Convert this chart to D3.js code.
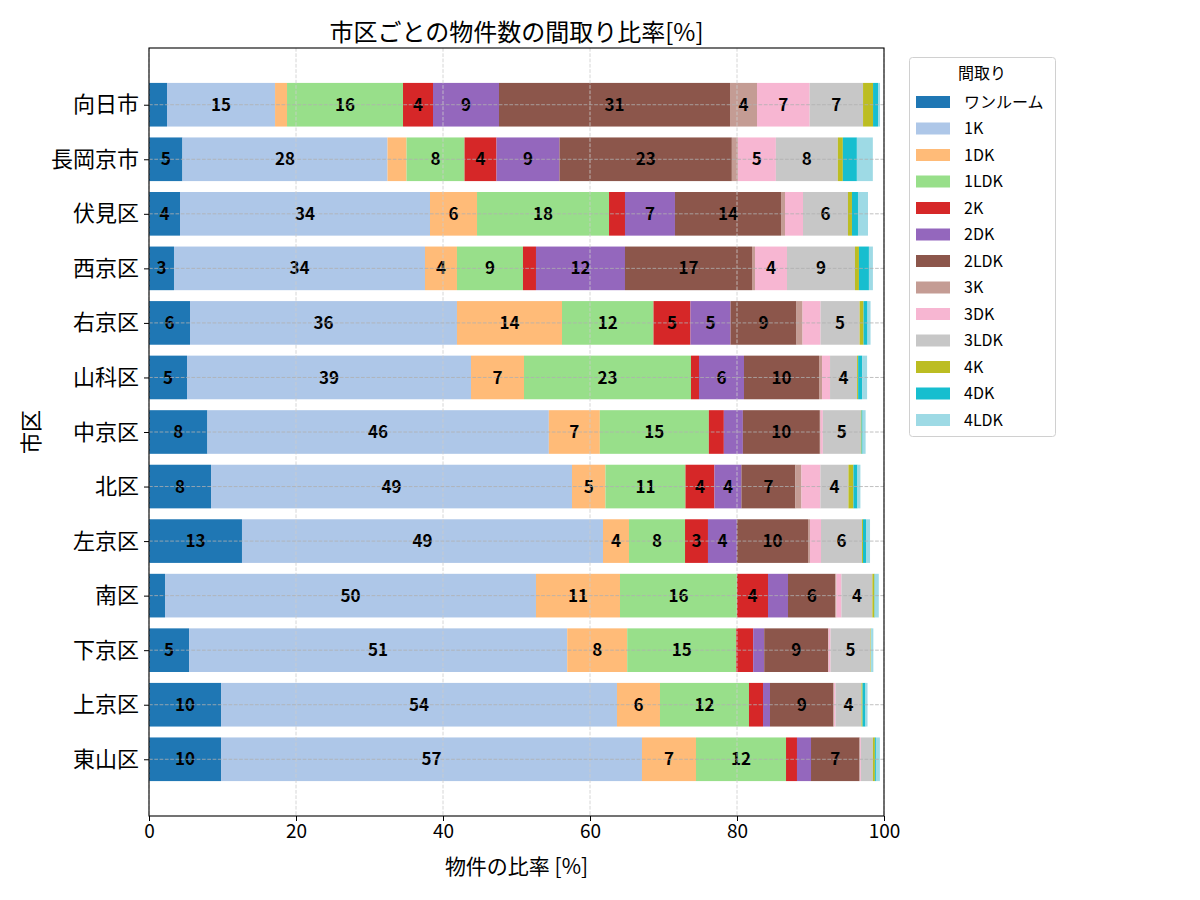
<!DOCTYPE html>
<html><head><meta charset="utf-8">
<script src="https://cdn.jsdelivr.net/npm/d3@7"></script>
<style>
body{margin:0;background:#fff}
svg{font-family:"Noto Sans CJK JP","Noto Sans",sans-serif}
</style>
</head><body>
<svg id="c" width="1200" height="900"></svg>
<script>
// ---- data ----
const districts = ["向日市","長岡京市","伏見区","西京区","右京区","山科区","中京区","北区","左京区","南区","下京区","上京区","東山区"];
const layouts = ["ワンルーム","1K","1DK","1LDK","2K","2DK","2LDK","3K","3DK","3LDK","4K","4DK","4LDK"];
const xTicks = [0,20,40,60,80,100];
const vOneRoom = [2.45,4.55,4.22,3.40,5.58,5.17,7.95,8.44,12.65,2.18,5.45,9.80,9.80];
const v1K   = [14.70,27.90,34.01,34.15,36.32,38.64,46.45,49.11,49.12,50.47,51.45,53.87,57.27];
const v1DK  = [1.63,2.59,6.40,4.35,14.29,7.21,6.94,4.55,3.54,11.43,8.16,5.85,7.35];
const v1LDK = [15.78,7.89,17.96,8.98,12.45,22.72,14.83,10.89,7.62,15.92,14.83,12.11,12.25];
const v2K   = [4.08,4.35,2.17,1.77,5.03,1.09,2.04,3.94,3.12,4.22,2.31,1.91,1.49];
const v2DK  = [8.98,8.57,6.80,12.11,5.45,6.12,2.59,3.67,3.95,2.72,1.50,0.95,1.91];
const v2LDK = [31.43,23.45,14.43,17.28,8.98,10.21,10.47,7.35,9.66,6.45,8.71,8.61,6.60];
const v3K   = [3.67,0.82,0.54,0.41,0.82,0.41,0.10,0.82,0.27,0.14,0.05,0.10,0.05];
const v3DK  = [7.17,5.17,2.45,4.35,2.45,1.09,0.31,2.58,1.50,0.68,0.27,0.20,0.13];
const v3LDK = [7.26,8.43,6.12,9.25,5.31,3.68,5.17,3.81,5.58,4.21,5.45,3.54,1.64];
const v4K   = [1.36,0.68,0.54,0.54,0.54,0.14,0.10,0.68,0.13,0.28,0.05,0.14,0.27];
const v4DK  = [0.68,1.91,0.82,1.36,0.54,0.54,0.14,0.55,0.41,0.05,0.05,0.40,0.14];
const v4LDK = [0.27,2.17,1.36,0.54,0.41,0.68,0.41,0.40,0.55,0.54,0.27,0.28,0.54];
const colors = ["#1f77b4","#aec7e8","#ffbb78","#98df8a","#d62728","#9467bd","#8c564b","#c49c94","#f7b6d2","#c7c7c7","#bcbd22","#17becf","#9edae5"];

const seriesValues = [vOneRoom,v1K,v1DK,v1LDK,v2K,v2DK,v2LDK,v3K,v3DK,v3LDK,v4K,v4DK,v4LDK];
const table = districts.map((d,i)=>{
  const o = {district:d, idx:i};
  layouts.forEach((k,j)=>{ o[k] = seriesValues[j][i]; });
  return o;
});

// ---- layout ----
const svg = d3.select("#c");
const L = 149, R = 884, T = 48, B = 816;
const x = d3.scaleLinear().domain([0,100]).range([L,R]);
const y = d3.scaleLinear().domain([-1.04, 13.04]).range([T,B]);
const barH = y(0.8) - y(0);
const color = d3.scaleOrdinal().domain(layouts).range(colors);

const stack = d3.stack().keys(layouts)(table);

const g = svg.append("g");
stack.forEach(layer=>{
  const gl = g.append("g").attr("fill", color(layer.key));
  gl.selectAll("rect").data(layer).join("rect")
    .attr("x", d=>x(d[0]))
    .attr("y", d=>y(d.data.idx) - barH/2)
    .attr("width", d=>x(d[1]) - x(d[0]))
    .attr("height", barH);
});

// grid (drawn above bars)
const grid = svg.append("g");
grid.selectAll("line.vx").data(xTicks).join("line")
  .attr("x1", d=>x(d)).attr("x2", d=>x(d)).attr("y1", T).attr("y2", B)
  .attr("stroke", "#cccccc").attr("stroke-width", 0.8).attr("stroke-dasharray", "3.7,1.6");
grid.selectAll("line.hy").data(districts.map((d,i)=>i)).join("line")
  .attr("x1", L).attr("x2", R).attr("y1", d=>y(d)).attr("y2", d=>y(d))
  .attr("stroke", "#b0b0b0").attr("stroke-width", 0.8).attr("stroke-dasharray", "3.7,1.6");

// labels
const fmt = d3.format(".0f");
stack.forEach(layer=>{
  g.append("g").selectAll("text").data(layer.filter(d=>(d[1]-d[0])>=3)).join("text")
    .attr("x", d=>(x(d[0])+x(d[1]))/2)
    .attr("y", d=>y(d.data.idx))
    .attr("dy", "0.36em")
    .attr("text-anchor", "middle")
    .attr("font-size", 17)
    .attr("font-weight", "bold")
    .attr("fill", "#000")
    .text(d=>fmt(d[1]-d[0]));
});

// frame
svg.append("rect").attr("x", L).attr("y", T).attr("width", R-L).attr("height", B-T)
  .attr("fill", "none").attr("stroke", "#000").attr("stroke-width", 1.1);

// axes
const xAxis = svg.append("g").attr("transform", `translate(0,${B})`)
  .call(d3.axisBottom(x).tickValues(xTicks).tickFormat(d3.format("d")).tickSize(5).tickPadding(4));
xAxis.select(".domain").remove();
xAxis.selectAll("text").attr("font-size", 19).attr("fill", "#000").style("font-family", '"Noto Sans CJK JP"');
xAxis.selectAll("line").attr("stroke", "#000");

const yAxis = svg.append("g").attr("transform", `translate(${L},0)`)
  .call(d3.axisLeft(y).tickValues(districts.map((d,i)=>i)).tickFormat(i=>districts[i]).tickSize(5).tickPadding(5));
yAxis.select(".domain").remove();
yAxis.selectAll("text").attr("font-size", 22).attr("fill", "#000").style("font-family", '"Noto Sans CJK JP"');
yAxis.selectAll("line").attr("stroke", "#000");

// titles
svg.append("text").attr("x", (L+R)/2).attr("y", 41).attr("text-anchor", "middle")
  .attr("font-size", 24).text("市区ごとの物件数の間取り比率[%]");
svg.append("text").attr("x", (L+R)/2).attr("y", 874).attr("text-anchor", "middle")
  .attr("font-size", 21).text("物件の比率 [%]");
svg.append("text").attr("transform", `translate(39,${(T+B)/2}) rotate(-90)`).attr("text-anchor", "middle")
  .attr("font-size", 22).text("市区");

// legend
const lg = svg.append("g");
lg.append("rect").attr("x", 909.5).attr("y", 57.5).attr("width", 146).attr("height", 379).attr("rx", 3)
  .attr("fill", "#fff").attr("stroke", "#d0d0d0").attr("stroke-width", 1);
lg.append("text").attr("x", 982).attr("y", 79).attr("text-anchor", "middle").attr("font-size", 16).text("間取り");
const items = lg.selectAll("g.it").data(layouts).join("g")
  .attr("transform", (d,i)=>`translate(916,${102 + i*26.5})`);
items.append("rect").attr("x", 0).attr("y", -6).attr("width", 34).attr("height", 12).attr("fill", d=>color(d));
items.append("text").attr("x", 48).attr("y", 0).attr("dy", "0.36em").attr("font-size", 16).text(d=>d);
</script>
</body></html>
